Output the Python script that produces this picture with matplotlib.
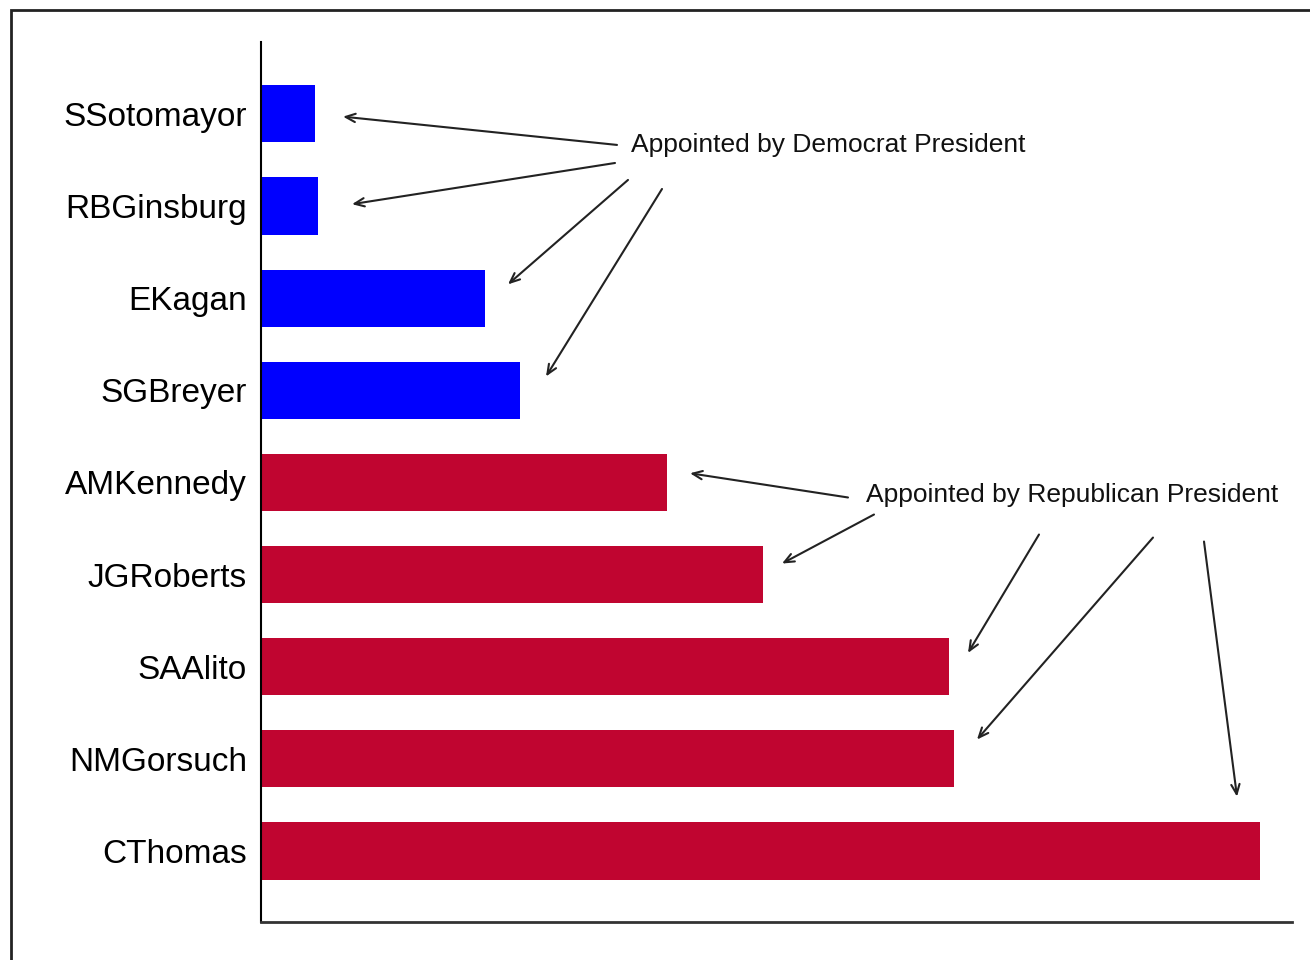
import matplotlib
matplotlib.use("Agg")
from matplotlib import pyplot as plt
from matplotlib.patches import Rectangle

#%% Data
justices = ["SSotomayor", "RBGinsburg", "EKagan", "SGBreyer",
            "AMKennedy", "JGRoberts", "SAAlito", "NMGorsuch", "CThomas"]
values = [54, 57, 224, 259, 406, 502, 688, 693, 999]
party = ["D", "D", "D", "D", "R", "R", "R", "R", "R"]

dem_label = "Appointed by Democrat President"
rep_label = "Appointed by Republican President"

#%% Style
colors = {"D": "#0000FF", "R": "#C00530"}
plt.rcParams['font.family'] = ['Liberation Sans', 'DejaVu Sans']

# where each arrow starts (near its label) and how far its tip sits from the bar end
dem_text_pos = (370, 0.337)
rep_text_pos = (605, 4.14)
arrow_starts = [(356, 0.337), (354, 0.533), (367, 0.717), (401, 0.815),
                (587, 4.163), (613, 4.348), (778, 4.565), (892, 4.598), (943, 4.641)]
tip_offsets = [(28, 0.03), (34, -0.02), (23, -0.15), (26, -0.15),
               (23, -0.10), (19, -0.12), (19, -0.15), (23, -0.21), (-23, -0.59)]

#%% Plot
fig = plt.figure(figsize=(13.1, 9.6), dpi=100)
ax = fig.add_axes([261/1310, 1 - 922/960, (1292-261)/1310, (922-42)/960])

ypos = list(range(len(justices)))
ax.barh(ypos, values, height=0.62, color=[colors[p] for p in party])
ax.set_xlim(0, 1031)
ax.set_ylim(len(justices) - 1 + 0.77, -0.78)
ax.set_yticks(ypos)
ax.set_yticklabels(justices, fontsize=24)
ax.set_xticks([])
ax.tick_params(axis='y', length=0, pad=10)
for side in ("top", "right"):
    ax.spines[side].set_visible(False)
ax.spines["left"].set_linewidth(1.5)
ax.spines["bottom"].set_linewidth(2)
ax.spines["bottom"].set_color("#333333")

ax.text(*dem_text_pos, dem_label, fontsize=19, ha='left', va='center', color='#111111')
ax.text(*rep_text_pos, rep_label, fontsize=19, ha='left', va='center', color='#111111')

for i, (start, off) in enumerate(zip(arrow_starts, tip_offsets)):
    tip = (values[i] + off[0], i + off[1])
    ax.annotate("", xy=tip, xytext=start,
                arrowprops=dict(arrowstyle="->,head_length=0.7,head_width=0.3",
                                lw=1.5, color="#222222", shrinkA=0, shrinkB=0))

# outer frame (runs off the right and bottom edges)
fig.patches.append(Rectangle((11/1310, -0.1), 1.2, 1.1 - 10/960, transform=fig.transFigure,
                             fill=False, edgecolor="#222222", linewidth=2))

fig.savefig("out.png", dpi=100)
